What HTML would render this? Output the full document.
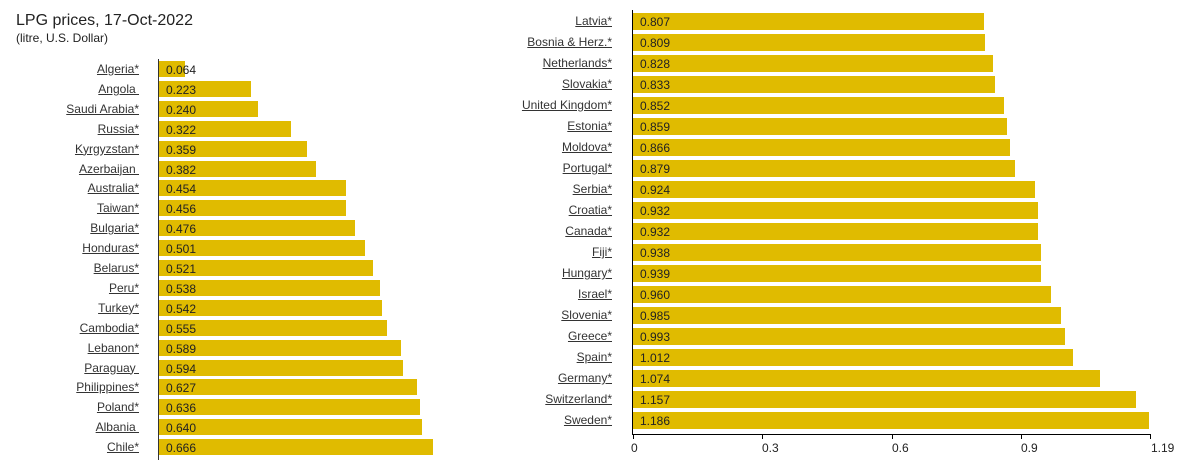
<!DOCTYPE html>
<html><head><meta charset="utf-8"><style>
body{margin:0;width:1193px;height:469px;background:#fff;font-family:"Liberation Sans",Arial,sans-serif;position:relative;overflow:hidden;color:#222}
.a{position:absolute}
.l{position:absolute;text-align:right;font-size:12px;text-decoration:underline;color:#333;white-space:pre;line-height:14px}
.b{position:absolute;background:#e0bb00;font-size:12px;color:#222;line-height:16px;padding-left:7px;padding-top:1px;box-sizing:border-box;white-space:nowrap}
.t{position:absolute;font-size:12px;color:#222}
.k{position:absolute;width:1px;height:5px;background:#000;top:434px}
</style></head><body>
<div class="a" style="left:16px;top:12px;font-size:16px">LPG prices, 17-Oct-2022</div>
<div class="a" style="left:16px;top:31px;font-size:12px">(litre, U.S. Dollar)</div>
<div class="a" style="left:158px;top:59px;width:1px;height:401px;background:#333"></div>
<div id="L"></div>
<div class="a" style="left:632px;top:10px;width:1px;height:425px;background:#000"></div>
<div class="a" style="left:632px;top:434px;width:519px;height:1px;background:#000"></div>
<div class="k" style="left:633px"></div><div class="k" style="left:762px"></div><div class="k" style="left:892px"></div><div class="k" style="left:1021px"></div><div class="k" style="left:1150px"></div>
<div class="t" style="left:631px;top:441px">0</div>
<div class="t" style="left:762px;top:441px">0.3</div>
<div class="t" style="left:892px;top:441px">0.6</div>
<div class="t" style="left:1021px;top:441px">0.9</div>
<div class="t" style="left:1151px;top:441px">1.19</div>
<script>
var L=[["Algeria*",.064],["Angola ",.223],["Saudi Arabia*",.240],["Russia*",.322],["Kyrgyzstan*",.359],["Azerbaijan ",.382],["Australia*",.454],["Taiwan*",.456],["Bulgaria*",.476],["Honduras*",.501],["Belarus*",.521],["Peru*",.538],["Turkey*",.542],["Cambodia*",.555],["Lebanon*",.589],["Paraguay ",.594],["Philippines*",.627],["Poland*",.636],["Albania ",.640],["Chile*",.666]];
var R=[["Latvia*",.807],["Bosnia & Herz.*",.809],["Netherlands*",.828],["Slovakia*",.833],["United Kingdom*",.852],["Estonia*",.859],["Moldova*",.866],["Portugal*",.879],["Serbia*",.924],["Croatia*",.932],["Canada*",.932],["Fiji*",.938],["Hungary*",.939],["Israel*",.960],["Slovenia*",.985],["Greece*",.993],["Spain*",1.012],["Germany*",1.074],["Switzerland*",1.157],["Sweden*",1.186]];
var h="";
L.forEach(function(d,i){var c=69+i*19.9;
h+='<div class="l" style="left:0;width:139px;top:'+(c-7)+'px">'+d[0]+'</div><div class="b" style="left:159px;top:'+(c-8)+'px;height:16px;width:'+Math.round(d[1]*411)+'px">'+d[1].toFixed(3)+'</div>';});
R.forEach(function(d,i){var c=21+i*21;
h+='<div class="l" style="left:400px;width:212px;top:'+(c-7)+'px">'+d[0].replace("&","&amp;")+'</div><div class="b" style="left:633px;top:'+(c-8)+'px;height:17px;line-height:17px;width:'+Math.round(d[1]*435)+'px">'+d[1].toFixed(3)+'</div>';});
document.getElementById("L").innerHTML=h;
</script>
</body></html>
